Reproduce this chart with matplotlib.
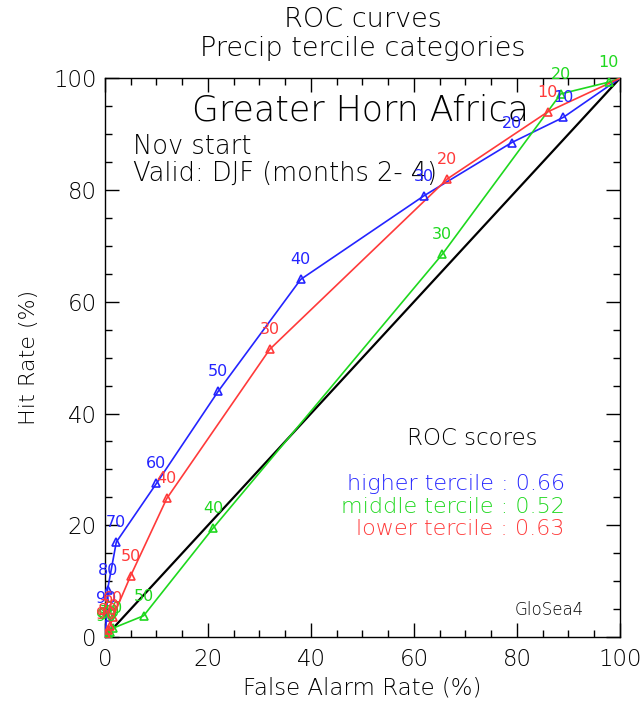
"""
ROC curves for precip tercile categories, Greater Horn Africa (GloSea4)
"""
import numpy as np
import matplotlib
matplotlib.use("Agg")
import matplotlib.pyplot as plt
from matplotlib.ticker import MultipleLocator

plt.rcParams['font.family'] = ['DejaVu Sans']
plt.rcParams['font.weight'] = 'light'
plt.rcParams['axes.labelweight'] = 'light'

# probability thresholds labelled on each curve (%)
thresholds = [10, 20, 30, 40, 50, 60, 70, 80, 90]

# higher tercile (false alarm rate, hit rate)
far_high = [89.0, 79.0, 62.0, 38.0, 22.0, 10.0, 2.2, 0.5, 0.3]
hr_high = [93.0, 88.5, 79.0, 64.0, 44.0, 27.5, 17.0, 8.5, 3.5]

# middle tercile
far_mid = [97.8, 88.5, 65.5, 21.0, 7.5, 1.6, 0.9, 0.5, 0.2]
hr_mid = [99.3, 97.2, 68.5, 19.5, 3.8, 1.6, 0.9, 0.5, 0.2]

# lower tercile
far_low = [86.0, 66.5, 32.0, 12.0, 5.0, 1.5, 1.0, 0.5, 0.2]
hr_low = [94.0, 82.0, 51.5, 24.8, 11.0, 3.5, 2.0, 1.2, 0.5]

scores = {"higher": 0.66, "middle": 0.52, "lower": 0.63}

c_high = "#2424ff"
c_mid = "#1ed81e"
c_low = "#ff3a3a"

fig = plt.figure(figsize=(6.41, 7.10), dpi=100)
ax = fig.add_axes([0.1638, 0.1028, 0.8034, 0.787])

# no-skill diagonal
ax.plot([0, 100], [0, 100], color="black", lw=1.6, zorder=2)

for far, hr, col in [(far_high, hr_high, c_high),
                     (far_mid, hr_mid, c_mid),
                     (far_low, hr_low, c_low)]:
    # curves run from (0,0) through thresholds to (100,100)
    xs = [0.0] + far[::-1] + [100.0]
    ys = [0.0] + hr[::-1] + [100.0]
    ax.plot(xs, ys, color=col, lw=1.2, zorder=3)
    ax.plot(far, hr, ls="none", marker="^", mfc="none", mec=col,
            ms=6, mew=1.2, zorder=4)
    for t, x, y in zip(thresholds, far, hr):
        ax.annotate(str(t), (x, y), xytext=(0, 14), textcoords="offset points",
                    ha="center", va="center", color=col, fontsize=11.5,
                    fontweight="normal", zorder=5, annotation_clip=False)

ax.set_xlim(0, 100)
ax.set_ylim(0, 100)
ax.xaxis.set_major_locator(MultipleLocator(20))
ax.yaxis.set_major_locator(MultipleLocator(20))
ax.xaxis.set_minor_locator(MultipleLocator(5))
ax.yaxis.set_minor_locator(MultipleLocator(5))
ax.tick_params(which="both", direction="in", top=True, right=True,
               width=1.0, labelsize=16.5)
ax.tick_params(which="major", length=10)
ax.tick_params(which="minor", length=5)
ax.tick_params(axis="x", pad=8)
ax.tick_params(axis="y", pad=6)
for s in ax.spines.values():
    s.set_linewidth(1.0)

ax.set_xlabel("False Alarm Rate (%)", fontsize=16.5, labelpad=4,
              fontweight="light")
ax.set_ylabel("Hit Rate (%)", fontsize=16, labelpad=10, fontweight="light")

fig.text(0.566, 0.962, "ROC curves", ha="center", va="baseline",
         fontsize=19.5)
fig.text(0.566, 0.921, "Precip tercile categories", ha="center",
         va="baseline", fontsize=19.5)

ax.text(0.497, 0.925, "Greater Horn Africa", transform=ax.transAxes,
        ha="center", va="baseline", fontsize=25)
ax.text(0.054, 0.864, "Nov start", transform=ax.transAxes,
        ha="left", va="baseline", fontsize=18.5)
ax.text(0.054, 0.816, "Valid: DJF (months 2- 4)", transform=ax.transAxes,
        ha="left", va="baseline", fontsize=18.5)

ax.text(0.713, 0.343, "ROC scores", transform=ax.transAxes,
        ha="center", va="baseline", fontsize=16.5)
ax.text(0.893, 0.263, "higher tercile : %.2f" % scores["higher"],
        transform=ax.transAxes, ha="right", va="baseline", fontsize=16,
        color=c_high)
ax.text(0.893, 0.222, "middle tercile : %.2f" % scores["middle"],
        transform=ax.transAxes, ha="right", va="baseline", fontsize=16,
        color=c_mid)
ax.text(0.893, 0.182, "lower tercile : %.2f" % scores["lower"],
        transform=ax.transAxes, ha="right", va="baseline", fontsize=16,
        color=c_low)
ax.text(0.862, 0.039, "GloSea4", transform=ax.transAxes,
        ha="center", va="baseline", fontsize=12)

fig.savefig("out.png", dpi=100)
